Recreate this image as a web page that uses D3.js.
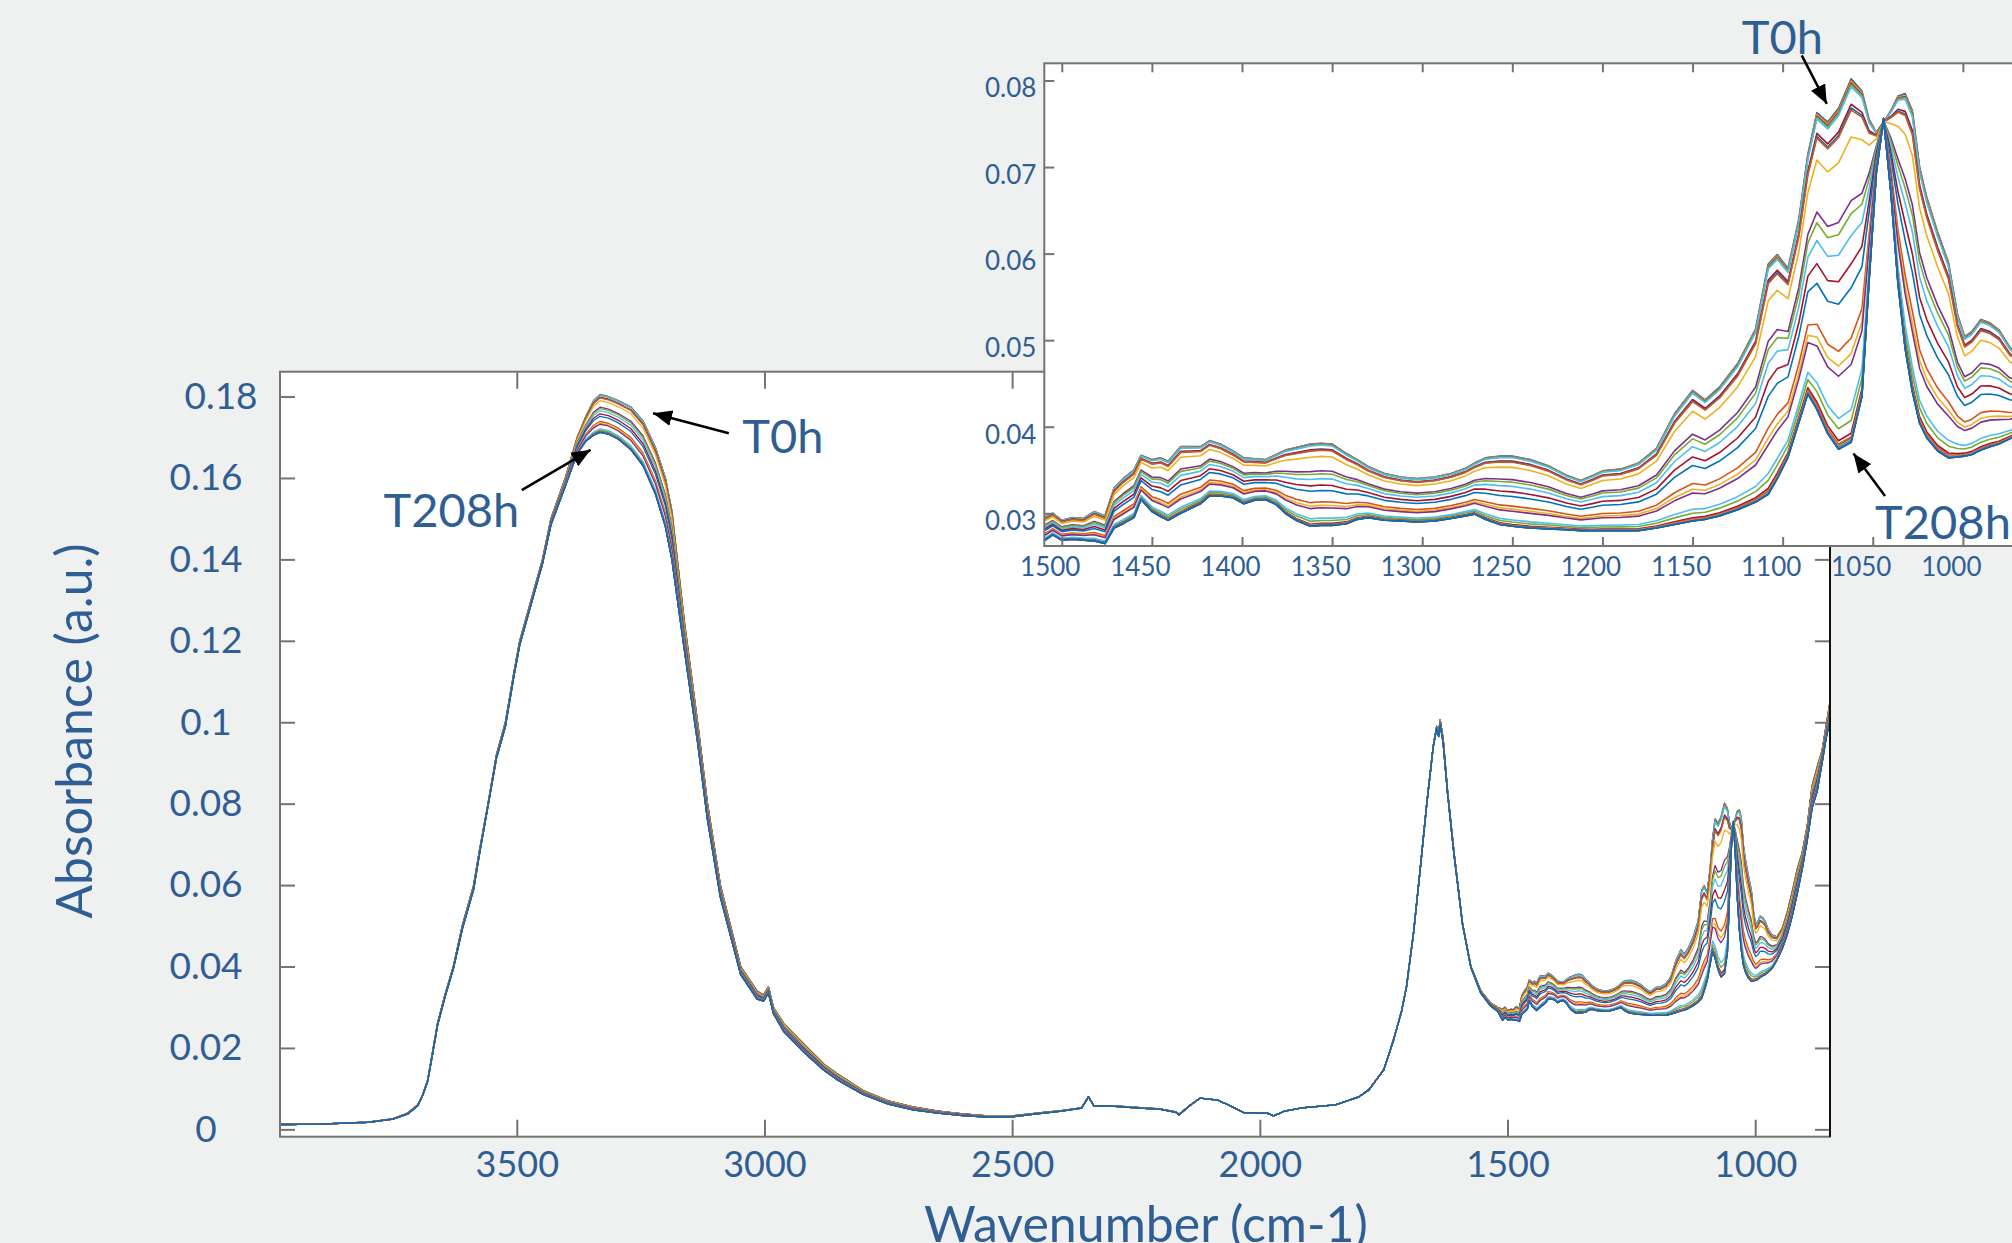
<!DOCTYPE html>
<html>
<head>
<meta charset="utf-8">
<script src="https://cdn.jsdelivr.net/npm/d3@7"></script>
<style>
  html, body { margin: 0; padding: 0; background: #eff1f0; }
  svg { display: block; }
  text { font-family: Lato, "Open Sans", sans-serif; }
</style>
</head>
<body>
<svg id="chart" width="2012" height="1243"></svg>
<script>
// wavenumber grid (cm-1) shared by both end spectra
const wavenumbers = [
  3978, 3900, 3800, 3750, 3720, 3700, 3690, 3680, 3670, 3660,
  3645, 3628, 3610, 3587, 3576, 3558, 3541, 3523, 3506, 3494,
  3471, 3448, 3431, 3402, 3378, 3361, 3345, 3332, 3315, 3295,
  3270, 3245, 3220, 3200, 3187, 3162, 3135, 3115, 3089, 3048,
  3015, 3002, 2992, 2982, 2961, 2921, 2880, 2851, 2800, 2750,
  2700, 2650, 2600, 2550, 2500, 2450, 2400, 2360, 2346, 2335,
  2300, 2250, 2200, 2170, 2163, 2140, 2120, 2085, 2060, 2032,
  2000, 1985, 1972, 1950, 1915, 1848, 1800, 1780, 1750, 1730,
  1714, 1704, 1690, 1677, 1663, 1650, 1643, 1639, 1636, 1630,
  1621, 1608, 1591, 1574, 1554, 1534, 1520, 1510, 1505, 1500,
  1494, 1488, 1482, 1476, 1471, 1466, 1460, 1456, 1450, 1445,
  1441, 1434, 1428, 1423, 1418, 1412, 1405, 1399, 1393, 1387,
  1381, 1376, 1370, 1362, 1356, 1350, 1342, 1336, 1330, 1321,
  1312, 1303, 1293, 1284, 1276, 1271, 1265, 1257, 1250, 1240,
  1230, 1220, 1212, 1205, 1200, 1190, 1180, 1170, 1160, 1150,
  1143, 1135, 1125, 1115, 1108, 1103, 1097, 1091, 1086, 1081,
  1075, 1069, 1062, 1056, 1052, 1048, 1044, 1040, 1036, 1032,
  1028, 1024, 1020, 1014, 1008, 1003, 999, 995, 990, 985,
  980, 974, 966, 956, 945, 935, 925, 915, 905, 895,
  885, 875, 865, 857, 849
];

// absorbance of the first spectrum (T0h)
const absorbanceT0 = [
  0.0012, 0.0013, 0.0018, 0.0026, 0.0040, 0.0060, 0.0085, 0.0120, 0.0190, 0.0260,
  0.0330, 0.0400, 0.0500, 0.0600, 0.0680, 0.0800, 0.0920, 0.1000, 0.1120, 0.1200,
  0.1300, 0.1400, 0.1500, 0.1600, 0.1700, 0.1750, 0.1790, 0.1805, 0.1800, 0.1790,
  0.1775, 0.1740, 0.1675, 0.1600, 0.1520, 0.1250, 0.1000, 0.0800, 0.0600, 0.0400,
  0.0340, 0.0330, 0.0350, 0.0300, 0.0260, 0.0210, 0.0160, 0.0135, 0.0095, 0.0070,
  0.0055, 0.0045, 0.0038, 0.0033, 0.0033, 0.0040, 0.0046, 0.0053, 0.0080, 0.0058,
  0.0058, 0.0054, 0.0050, 0.0043, 0.0037, 0.0060, 0.0077, 0.0072, 0.0058, 0.0041,
  0.0040, 0.0040, 0.0033, 0.0045, 0.0053, 0.0060, 0.0080, 0.0097, 0.0146, 0.0220,
  0.0290, 0.0350, 0.0480, 0.0630, 0.0800, 0.0940, 0.0990, 0.0970, 0.1006, 0.0960,
  0.0830, 0.0680, 0.0507, 0.0400, 0.0340, 0.0310, 0.0300, 0.0295, 0.0300, 0.0292,
  0.0295, 0.0294, 0.0302, 0.0297, 0.0329, 0.0340, 0.0350, 0.0367, 0.0362, 0.0364,
  0.0360, 0.0377, 0.0377, 0.0377, 0.0384, 0.0380, 0.0372, 0.0364, 0.0363, 0.0362,
  0.0368, 0.0373, 0.0376, 0.0380, 0.0381, 0.0380, 0.0369, 0.0362, 0.0354, 0.0346,
  0.0342, 0.0340, 0.0342, 0.0346, 0.0352, 0.0358, 0.0364, 0.0366, 0.0366, 0.0362,
  0.0355, 0.0344, 0.0338, 0.0344, 0.0349, 0.0351, 0.0358, 0.0375, 0.0415, 0.0442,
  0.0431, 0.0446, 0.0473, 0.0513, 0.0588, 0.0599, 0.0583, 0.0640, 0.0715, 0.0763,
  0.0752, 0.0768, 0.0802, 0.0788, 0.0755, 0.0740, 0.0752, 0.0765, 0.0782, 0.0785,
  0.0765, 0.0700, 0.0665, 0.0625, 0.0590, 0.0530, 0.0504, 0.0510, 0.0524, 0.0520,
  0.0512, 0.0492, 0.0478, 0.0473, 0.0495, 0.0535, 0.0585, 0.0640, 0.0680, 0.0745,
  0.0845, 0.0890, 0.0930, 0.0990, 0.1050
];

// absorbance of the last spectrum (T208h)
const absorbanceT208 = [
  0.0012, 0.0013, 0.0017, 0.0025, 0.0038, 0.0058, 0.0083, 0.0118, 0.0185, 0.0255,
  0.0325, 0.0395, 0.0492, 0.0590, 0.0672, 0.0795, 0.0912, 0.0990, 0.1112, 0.1190,
  0.1290, 0.1390, 0.1485, 0.1580, 0.1660, 0.1690, 0.1705, 0.1712, 0.1708, 0.1695,
  0.1670, 0.1630, 0.1560, 0.1480, 0.1400, 0.1180, 0.0950, 0.0760, 0.0570, 0.0380,
  0.0320, 0.0315, 0.0335, 0.0285, 0.0240, 0.0190, 0.0145, 0.0120, 0.0085, 0.0062,
  0.0048, 0.0040, 0.0034, 0.0030, 0.0031, 0.0038, 0.0045, 0.0052, 0.0080, 0.0058,
  0.0057, 0.0053, 0.0049, 0.0042, 0.0036, 0.0060, 0.0077, 0.0072, 0.0058, 0.0041,
  0.0040, 0.0040, 0.0033, 0.0045, 0.0053, 0.0060, 0.0080, 0.0097, 0.0146, 0.0220,
  0.0290, 0.0350, 0.0480, 0.0630, 0.0800, 0.0940, 0.0985, 0.0965, 0.0995, 0.0950,
  0.0825, 0.0675, 0.0505, 0.0398, 0.0335, 0.0303, 0.0290, 0.0268, 0.0275, 0.0269,
  0.0270, 0.0269, 0.0268, 0.0265, 0.0283, 0.0288, 0.0295, 0.0316, 0.0302, 0.0296,
  0.0292, 0.0300, 0.0306, 0.0311, 0.0320, 0.0320, 0.0318, 0.0311, 0.0315, 0.0316,
  0.0310, 0.0300, 0.0292, 0.0285, 0.0286, 0.0286, 0.0288, 0.0293, 0.0295, 0.0292,
  0.0291, 0.0290, 0.0291, 0.0294, 0.0297, 0.0299, 0.0293, 0.0287, 0.0285, 0.0283,
  0.0282, 0.0281, 0.0280, 0.0280, 0.0280, 0.0280, 0.0280, 0.0283, 0.0287, 0.0291,
  0.0293, 0.0297, 0.0304, 0.0313, 0.0322, 0.0340, 0.0365, 0.0405, 0.0438, 0.0420,
  0.0392, 0.0374, 0.0382, 0.0435, 0.0570, 0.0694, 0.0756, 0.0672, 0.0565, 0.0490,
  0.0440, 0.0404, 0.0387, 0.0372, 0.0364, 0.0365, 0.0366, 0.0368, 0.0373, 0.0377,
  0.0380, 0.0386, 0.0395, 0.0416, 0.0445, 0.0480, 0.0525, 0.0580, 0.0640, 0.0710,
  0.0790, 0.0830, 0.0900, 0.0960, 0.1005
];

// position of every time point between T0h (0) and T208h (1), read at ~1072 cm-1 in the inset
const timeLevels = [
  0, 0.004, 0.008, 0.012, 0.016, 0.022, 0.070, 0.080, 0.086, 0.160,
  0.335, 0.371, 0.431, 0.509, 0.575, 0.713, 0.756, 0.786, 0.940, 0.910,
  0.975, 0.988, 0.985, 0.992, 0.995, 1.0, 0.997, 1.0, 1.0
];

const seriesColors = ["#0072BD", "#D95319", "#EDB120", "#7E2F8E", "#77AC30", "#4DBEEE", "#A2142F"];

const mainXDomain = [3978, 849];
const mainYDomain = [-0.0018, 0.1861];
const mainXTicks = [3500, 3000, 2500, 2000, 1500, 1000];
const mainYTicks = [0, 0.02, 0.04, 0.06, 0.08, 0.1, 0.12, 0.14, 0.16, 0.18];

const insetXDomain = [1509.7, 940];
const insetYDomain = [0.02622, 0.08199];
const insetXTicks = [1500, 1450, 1400, 1350, 1300, 1250, 1200, 1150, 1100, 1050, 1000, 950];
const insetYTicks = [0.03, 0.04, 0.05, 0.06, 0.07, 0.08];

// annotation anchors in data units [wavenumber, absorbance]
const mainNotes = [
  { label: "T0h", at: [3045, 0.1661], anchor: "start", from: [3072, 0.1710], to: [3225, 0.1759] },
  { label: "T208h", at: [3495, 0.1480], anchor: "end", from: [3490, 0.1570], to: [3351, 0.1669] }
];
const insetNotes = [
  { label: "T0h", at: [1122.7, 0.0831], anchor: "start", from: [1089.4, 0.0829], to: [1075.5, 0.0773] },
  { label: "T208h", at: [1048.7, 0.02705], anchor: "start", from: [1043.2, 0.0320], to: [1060.7, 0.0369] }
];

const textBlue = "#2f5e95";
const axisGrey = "#737373";

const mainBox = { left: 280, right: 1830, top: 371.7, bottom: 1136.7 };
const insetBox = { left: 1044.3, right: 2071, top: 63.3, bottom: 546 };

const spectra = timeLevels.map(function (f) {
  return wavenumbers.map(function (w, i) {
    return { w: w, a: absorbanceT0[i] + f * (absorbanceT208[i] - absorbanceT0[i]) };
  });
});

const svg = d3.select("#chart");
const defs = svg.append("defs");

defs.append("marker")
  .attr("id", "arrowHead")
  .attr("viewBox", "0 0 12 10")
  .attr("refX", 12)
  .attr("refY", 5)
  .attr("markerUnits", "userSpaceOnUse")
  .attr("markerWidth", 19)
  .attr("markerHeight", 16)
  .attr("orient", "auto")
  .append("path")
  .attr("d", "M0,0 L12,5 L0,10 z")
  .attr("fill", "#000");

svg.append("rect")
  .attr("width", 2012)
  .attr("height", 1243)
  .attr("fill", "#eff1f0");

function drawPanel(box, xDomain, yDomain, clipId, strokeWidth) {
  const x = d3.scaleLinear().domain(xDomain).range([box.left, box.right]);
  const y = d3.scaleLinear().domain(yDomain).range([box.bottom, box.top]);
  const g = svg.append("g");

  defs.append("clipPath")
    .attr("id", clipId)
    .append("rect")
    .attr("x", box.left)
    .attr("y", box.top)
    .attr("width", box.right - box.left)
    .attr("height", box.bottom - box.top);

  g.append("rect")
    .attr("x", box.left)
    .attr("y", box.top)
    .attr("width", box.right - box.left)
    .attr("height", box.bottom - box.top)
    .attr("fill", "#fff");

  const line = d3.line()
    .x(function (d) { return x(d.w); })
    .y(function (d) { return y(d.a); });

  g.append("g")
    .attr("clip-path", "url(#" + clipId + ")")
    .selectAll("path")
    .data(spectra)
    .join("path")
    .attr("d", line)
    .attr("fill", "none")
    .attr("stroke", function (d, i) { return seriesColors[i % seriesColors.length]; })
    .attr("stroke-width", strokeWidth)
    .attr("stroke-linejoin", "round");

  return { g: g, x: x, y: y };
}

function styleAxis(sel, fontSize) {
  sel.select(".domain").remove();
  sel.selectAll(".tick line").attr("stroke", axisGrey).attr("stroke-width", 2);
  sel.attr("font-family", "Lato, 'Open Sans', sans-serif").attr("font-size", fontSize);
  sel.selectAll(".tick text").attr("fill", textBlue);
}

function drawNotes(panel, notes) {
  notes.forEach(function (n) {
    panel.g.append("line")
      .attr("x1", panel.x(n.from[0]))
      .attr("y1", panel.y(n.from[1]))
      .attr("x2", panel.x(n.to[0]))
      .attr("y2", panel.y(n.to[1]))
      .attr("stroke", "#000")
      .attr("stroke-width", 2.5)
      .attr("marker-end", "url(#arrowHead)");
    panel.g.append("text")
      .attr("x", panel.x(n.at[0]))
      .attr("y", panel.y(n.at[1]))
      .attr("text-anchor", n.anchor)
      .attr("font-size", 47)
      .attr("fill", textBlue)
      .text(n.label);
  });
}

// ---- main spectrum ----
const main = drawPanel(mainBox, mainXDomain, mainYDomain, "mainClip", 1.3);
const mainFmt = function (d) { return String(+d.toFixed(2)); };

main.g.append("g")
  .attr("transform", "translate(0," + mainBox.bottom + ")")
  .call(d3.axisBottom(main.x).tickValues(mainXTicks).tickSizeInner(-17).tickSizeOuter(0).tickPadding(15).tickFormat(d3.format("d")))
  .call(styleAxis, 36);

main.g.append("g")
  .attr("transform", "translate(0," + mainBox.top + ")")
  .call(d3.axisTop(main.x).tickValues(mainXTicks).tickSizeInner(-17).tickSizeOuter(0).tickFormat(""))
  .call(styleAxis, 36);

// y labels sit centred in their own column, the top one a little to the right
main.g.append("g")
  .attr("transform", "translate(" + mainBox.left + ",0)")
  .call(d3.axisLeft(main.y).tickValues(mainYTicks).tickSizeInner(-15).tickSizeOuter(0).tickFormat(mainFmt))
  .call(styleAxis, 37)
  .call(function (g) {
    g.selectAll(".tick text")
      .attr("text-anchor", "middle")
      .attr("x", function (d) { return d === 0.18 ? -59 : -74; });
  });

main.g.append("g")
  .attr("transform", "translate(" + mainBox.right + ",0)")
  .call(d3.axisRight(main.y).tickValues(mainYTicks).tickSizeInner(-15).tickSizeOuter(0).tickFormat(""))
  .call(styleAxis, 36);

main.g.append("rect")
  .attr("x", mainBox.left)
  .attr("y", mainBox.top)
  .attr("width", mainBox.right - mainBox.left)
  .attr("height", mainBox.bottom - mainBox.top)
  .attr("fill", "none")
  .attr("stroke", axisGrey)
  .attr("stroke-width", 2);

main.g.append("line")
  .attr("x1", mainBox.right)
  .attr("x2", mainBox.right)
  .attr("y1", mainBox.top)
  .attr("y2", mainBox.bottom)
  .attr("stroke", "#111")
  .attr("stroke-width", 2);

main.g.append("text")
  .attr("transform", "translate(92,731) rotate(-90)")
  .attr("text-anchor", "middle")
  .attr("font-size", 50)
  .attr("fill", textBlue)
  .text("Absorbance (a.u.)");

main.g.append("text")
  .attr("x", 1146)
  .attr("y", 1242)
  .attr("text-anchor", "middle")
  .attr("font-size", 50)
  .attr("fill", textBlue)
  .text("Wavenumber (cm-1)");

drawNotes(main, mainNotes);

// ---- zoomed inset 1500-950 cm-1 ----
const inset = drawPanel(insetBox, insetXDomain, insetYDomain, "insetClip", 1.6);

inset.g.append("g")
  .attr("transform", "translate(0," + insetBox.bottom + ")")
  .call(d3.axisBottom(inset.x).tickValues(insetXTicks).tickSizeInner(-9).tickSizeOuter(0).tickPadding(12).tickFormat(d3.format("d")))
  .call(styleAxis, 26)
  .call(function (g) { g.selectAll(".tick text").attr("x", -12); });

inset.g.append("g")
  .attr("transform", "translate(0," + insetBox.top + ")")
  .call(d3.axisTop(inset.x).tickValues(insetXTicks).tickSizeInner(-9).tickSizeOuter(0).tickFormat(""))
  .call(styleAxis, 26);

inset.g.append("g")
  .attr("transform", "translate(" + insetBox.left + ",0)")
  .call(d3.axisLeft(inset.y).tickValues(insetYTicks).tickSizeInner(-10).tickSizeOuter(0).tickPadding(8).tickFormat(d3.format(".2f")))
  .call(styleAxis, 26)
  .call(function (g) { g.selectAll(".tick text").attr("y", 8); });

inset.g.append("rect")
  .attr("x", insetBox.left)
  .attr("y", insetBox.top)
  .attr("width", insetBox.right - insetBox.left)
  .attr("height", insetBox.bottom - insetBox.top)
  .attr("fill", "none")
  .attr("stroke", axisGrey)
  .attr("stroke-width", 2);

drawNotes(inset, insetNotes);
</script>
</body>
</html>
